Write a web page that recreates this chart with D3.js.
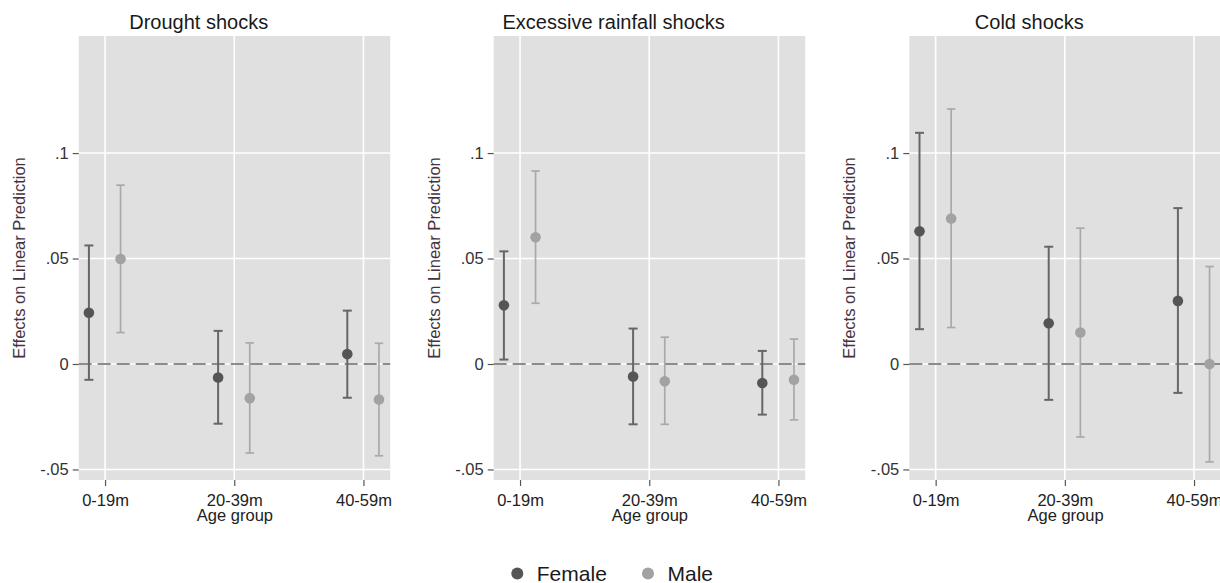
<!DOCTYPE html>
<html>
<head>
<meta charset="utf-8">
<script src="https://cdn.jsdelivr.net/npm/d3@7"></script>
<style>
  html, body { margin: 0; padding: 0; background: #ffffff; }
  svg { display: block; font-family: "Liberation Sans", Arial, sans-serif; }
</style>
</head>
<body>
<svg id="chart" width="1220" height="583"></svg>
<script>
// ---- Data ----
const panelTitles = ["Drought shocks", "Excessive rainfall shocks", "Cold shocks"];
const ageGroups = ["0-19m", "20-39m", "40-59m"];
const seriesNames = ["Female", "Male"];
const yTickValues = [-0.05, 0, 0.05, 0.1];
const yTickLabels = ["-.05", "0", ".05", ".1"];

// estimates and 95% CI per panel (rows) and age group (columns)
const femaleEst = [[0.0243, -0.0064, 0.0047], [0.0278, -0.0059, -0.0090], [0.0629, 0.0193, 0.0299]];
const femaleLo  = [[-0.0075, -0.0283, -0.0160], [0.0021, -0.0286, -0.0240], [0.0165, -0.0170, -0.0137]];
const femaleHi  = [[0.0562, 0.0157, 0.0253], [0.0534, 0.0168, 0.0062], [0.1096, 0.0556, 0.0739]];
const maleEst   = [[0.0498, -0.0162, -0.0168], [0.0601, -0.0082, -0.0075], [0.0690, 0.0149, 0.0000]];
const maleLo    = [[0.0149, -0.0422, -0.0435], [0.0288, -0.0286, -0.0265], [0.0173, -0.0346, -0.0464]];
const maleHi    = [[0.0848, 0.0100, 0.0098], [0.0915, 0.0127, 0.0118], [0.1209, 0.0644, 0.0462]];

// ---- Layout ----
const svg = d3.select("#chart");
const panelLefts = [78.7, 493.7, 909.3];
const plotW = 311.5, plotTop = 36, plotBottom = 480;
const styles = {
  Female: { dot: "#555555", bar: "#666666", barW: 2, cap: 4.5, r: 5.3 },
  Male:   { dot: "#a2a2a2", bar: "#a9a9a9", barW: 1.7, cap: 4.2, r: 5.3 }
};
const offsets = { Female: -0.125, Male: 0.12 };

const y = d3.scaleLinear().domain([-0.055, 0.1555]).range([plotBottom, plotTop]);

panelTitles.forEach((title, p) => {
  const left = panelLefts[p];
  const x = d3.scaleLinear().domain([0.796, 3.207]).range([left, left + plotW]);
  const g = svg.append("g");

  // plot background
  g.append("rect").attr("x", left).attr("y", plotTop)
    .attr("width", plotW).attr("height", plotBottom - plotTop).attr("fill", "#e0e0e0");

  // gridlines
  g.selectAll("line.hg").data(yTickValues).join("line")
    .attr("x1", left).attr("x2", left + plotW)
    .attr("y1", d => y(d)).attr("y2", d => y(d))
    .attr("stroke", "#ffffff").attr("stroke-width", 1.6);
  g.selectAll("line.vg").data(ageGroups).join("line")
    .attr("x1", (d, i) => x(i + 1)).attr("x2", (d, i) => x(i + 1))
    .attr("y1", plotTop).attr("y2", plotBottom)
    .attr("stroke", "#ffffff").attr("stroke-width", 1.6);

  // zero reference line
  g.append("line").attr("x1", left).attr("x2", left + plotW)
    .attr("y1", y(0)).attr("y2", y(0))
    .attr("stroke", "#8c8c8c").attr("stroke-width", 2)
    .attr("stroke-dasharray", "13,6");

  // y axis
  const yAxis = d3.axisLeft(y).tickValues(yTickValues)
    .tickFormat((d, i) => yTickLabels[i]).tickSize(6).tickPadding(4);
  const ya = g.append("g").attr("transform", `translate(${left},0)`).call(yAxis);
  ya.attr("font-size", null).attr("font-family", null);
  ya.select(".domain").remove();
  ya.selectAll(".tick line").attr("stroke", "#555").attr("stroke-width", 1.2);
  ya.selectAll(".tick text").attr("fill", "#333").style("font-size", "16.5px");

  // x axis
  const xAxis = d3.axisBottom(x).tickValues([1, 2, 3])
    .tickFormat((d, i) => ageGroups[i]).tickSize(6).tickPadding(8);
  const xa = g.append("g").attr("transform", `translate(0,${plotBottom})`).call(xAxis);
  xa.attr("font-size", null).attr("font-family", null);
  xa.select(".domain").remove();
  xa.selectAll(".tick line").attr("stroke", "#555").attr("stroke-width", 1.2);
  xa.selectAll(".tick text").attr("fill", "#222").style("font-size", "16.5px");

  // axis titles
  g.append("text").attr("x", left + plotW / 2 + 0.5).attr("y", 521)
    .attr("text-anchor", "middle").style("font-size", "16.5px").attr("fill", "#222")
    .text("Age group");
  g.append("text")
    .attr("transform", `translate(${left - 60},${(plotTop + plotBottom) / 2}) rotate(-90)`)
    .attr("text-anchor", "middle").attr("dominant-baseline", "central")
    .style("font-size", "16.5px").attr("fill", "#45323f")
    .text("Effects on Linear Prediction");

  // panel title
  g.append("text").attr("x", left + 120).attr("y", 29)
    .attr("text-anchor", "middle").style("font-size", "20px").attr("fill", "#1a1a1a")
    .text(title);

  // series
  const seriesData = {
    Female: ageGroups.map((a, i) => ({ i, est: femaleEst[p][i], lo: femaleLo[p][i], hi: femaleHi[p][i] })),
    Male: ageGroups.map((a, i) => ({ i, est: maleEst[p][i], lo: maleLo[p][i], hi: maleHi[p][i] }))
  };
  seriesNames.forEach(s => {
    const st = styles[s];
    const data = seriesData[s];
    const cx = d => x(d.i + 1 + offsets[s]);
    const sg = g.append("g");
    sg.selectAll("line.ci").data(data).join("line")
      .attr("x1", cx).attr("x2", cx)
      .attr("y1", d => y(d.lo)).attr("y2", d => y(d.hi))
      .attr("stroke", st.bar).attr("stroke-width", st.barW);
    ["lo", "hi"].forEach(k => {
      sg.selectAll("line.cap" + k).data(data).join("line")
        .attr("x1", d => cx(d) - st.cap).attr("x2", d => cx(d) + st.cap)
        .attr("y1", d => y(d[k])).attr("y2", d => y(d[k]))
        .attr("stroke", st.bar).attr("stroke-width", st.barW);
    });
    sg.selectAll("circle").data(data).join("circle")
      .attr("cx", cx).attr("cy", d => y(d.est)).attr("r", st.r)
      .attr("fill", st.dot);
  });
});

// ---- Legend ----
const legend = svg.append("g");
const legendX = [517.3, 648];
seriesNames.forEach((s, i) => {
  legend.append("circle").attr("cx", legendX[i]).attr("cy", 573.5).attr("r", 6)
    .attr("fill", styles[s].dot);
  legend.append("text").attr("x", legendX[i] + 19.5).attr("y", 580.5)
    .style("font-size", "21px").attr("fill", "#1a1a1a").text(s);
});
</script>
</body>
</html>
